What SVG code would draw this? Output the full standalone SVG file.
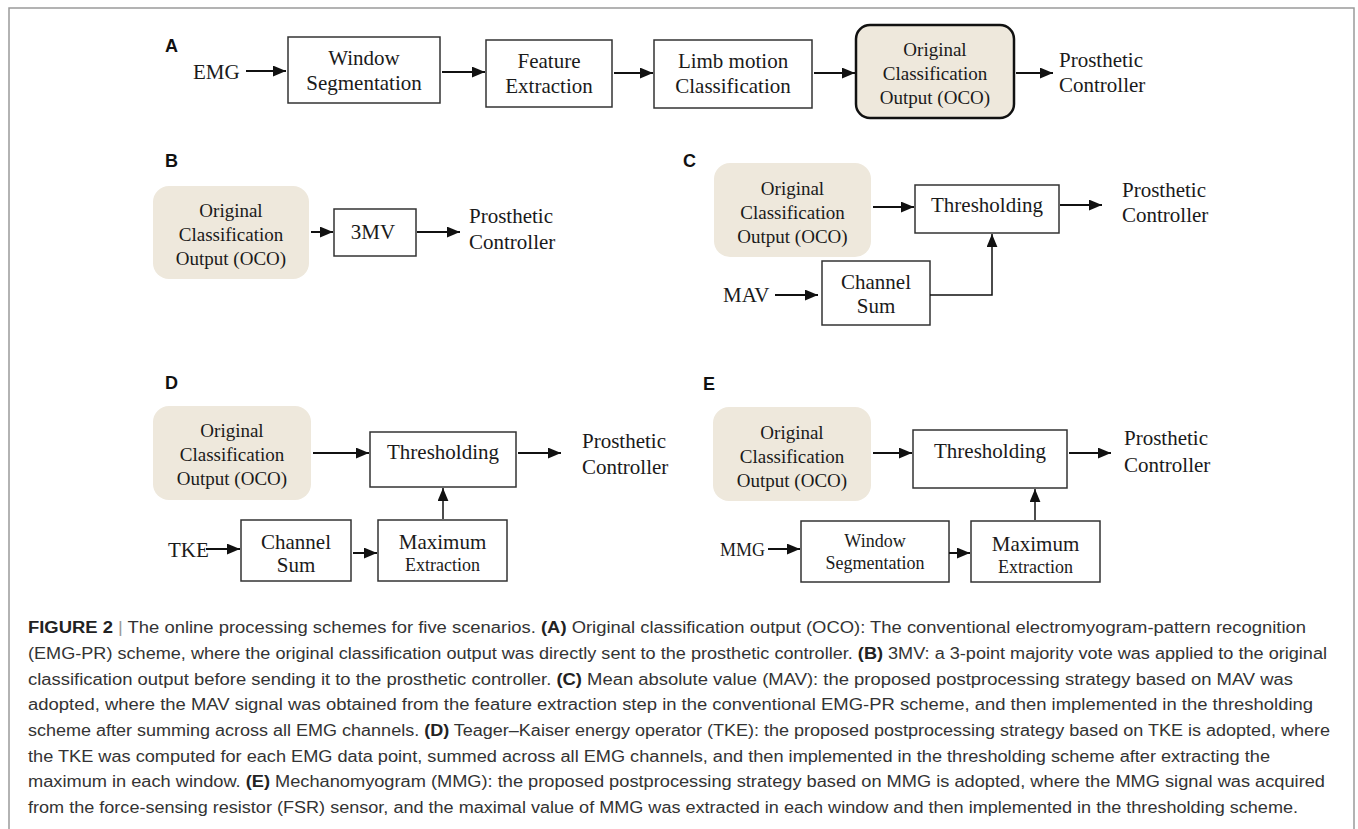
<svg xmlns="http://www.w3.org/2000/svg" width="1358" height="829" viewBox="0 0 1358 829">
<defs>
<marker id="ah" viewBox="0 0 12 10" refX="12" refY="5" markerWidth="13" markerHeight="11" markerUnits="userSpaceOnUse" orient="auto"><path d="M0,0 L12,5 L0,10 z" fill="#111"/></marker>
<style>
.box{fill:#fff;stroke:#333;stroke-width:1.5}
.oco{fill:#eee8dc;stroke:none}
.ocoA{fill:#eee8dc;stroke:#111;stroke-width:2.5}
.t{font-family:"Liberation Serif","Times New Roman",serif;font-size:21px;fill:#1a1a1a}
.m{text-anchor:middle}
.s{font-size:18px}
.o{font-size:19px}
.lbl{font-family:"Liberation Sans",Arial,sans-serif;font-size:18px;font-weight:bold;fill:#111}
.c{stroke:#111;stroke-width:2;fill:none;marker-end:url(#ah)}
.c2{stroke:#111;stroke-width:1.5;fill:none;marker-end:url(#ah)}
.cap{font-family:"Liberation Sans",Arial,sans-serif;font-size:16px;fill:#333}
.b{font-weight:bold;fill:#222}
</style>
</defs>
<rect x="9" y="8" width="1345" height="840" fill="none" stroke="#9a9a9a" stroke-width="1.5"/>

<!-- Panel A -->
<text class="lbl" x="165" y="52">A</text>
<g id="a-emg"><text class="t" x="193" y="79">EMG</text></g>
<g id="a-win"><rect class="box" x="288" y="37" width="152" height="66"/><text class="t m" x="364" y="65">Window</text><text class="t m" x="364" y="90">Segmentation</text></g>
<g id="a-feat"><rect class="box" x="486" y="40" width="126" height="67"/><text class="t m" x="549" y="68">Feature</text><text class="t m" x="549" y="93">Extraction</text></g>
<g id="a-limb"><rect class="box" x="654" y="40" width="158" height="68"/><text class="t m" x="733" y="68">Limb motion</text><text class="t m" x="733" y="93">Classification</text></g>
<g id="a-oco"><rect class="ocoA" x="856" y="25" width="158" height="93" rx="14"/><text class="t m o" x="935" y="56">Original</text><text class="t m o" x="935" y="80">Classification</text><text class="t m o" x="935" y="104">Output (OCO)</text></g>
<g id="a-pc"><text class="t" x="1059" y="67">Prosthetic</text><text class="t" x="1059" y="92">Controller</text></g>

<!-- Panel B -->
<text class="lbl" x="165" y="167">B</text>
<g id="b-oco"><rect class="oco" x="153" y="186" width="156" height="93" rx="16"/><text class="t m o" x="231" y="217">Original</text><text class="t m o" x="231" y="241">Classification</text><text class="t m o" x="231" y="265">Output (OCO)</text></g>
<g id="b-3mv"><rect class="box" x="334" y="209" width="82" height="47"/><text class="t m" x="373" y="239">3MV</text></g>
<g id="b-pc"><text class="t" x="469" y="223">Prosthetic</text><text class="t" x="469" y="249">Controller</text></g>

<!-- Panel C -->
<text class="lbl" x="683" y="167">C</text>
<g id="c-oco"><rect class="oco" x="714" y="163" width="157" height="94" rx="16"/><text class="t m o" x="792.5" y="195">Original</text><text class="t m o" x="792.5" y="219">Classification</text><text class="t m o" x="792.5" y="243">Output (OCO)</text></g>
<g id="c-thr"><rect class="box" x="915" y="185" width="144" height="48"/><text class="t m" x="987" y="212">Thresholding</text></g>
<g id="c-pc"><text class="t" x="1122" y="197">Prosthetic</text><text class="t" x="1122" y="222">Controller</text></g>
<g id="c-mav"><text class="t" x="723" y="302">MAV</text></g>
<g id="c-sum"><rect class="box" x="822" y="261" width="108" height="64"/><text class="t m" x="876" y="289">Channel</text><text class="t m" x="876" y="313">Sum</text></g>

<!-- Panel D -->
<text class="lbl" x="165" y="389">D</text>
<g id="d-oco"><rect class="oco" x="153" y="406" width="158" height="94" rx="16"/><text class="t m o" x="232" y="437">Original</text><text class="t m o" x="232" y="461">Classification</text><text class="t m o" x="232" y="485">Output (OCO)</text></g>
<g id="d-thr"><rect class="box" x="370" y="432" width="146" height="55"/><text class="t m" x="443" y="459">Thresholding</text></g>
<g id="d-pc"><text class="t" x="582" y="448">Prosthetic</text><text class="t" x="582" y="474">Controller</text></g>
<g id="d-tke"><text class="t" x="168" y="557">TKE</text></g>
<g id="d-sum"><rect class="box" x="241" y="520" width="110" height="61"/><text class="t m" x="296" y="549">Channel</text><text class="t m" x="296" y="572">Sum</text></g>
<g id="d-max"><rect class="box" x="378" y="520" width="129" height="61"/><text class="t m" x="442.5" y="549">Maximum</text><text class="t m s" x="442.5" y="571">Extraction</text></g>

<!-- Panel E -->
<text class="lbl" x="703" y="390">E</text>
<g id="e-oco"><rect class="oco" x="713" y="407" width="158" height="94" rx="16"/><text class="t m o" x="792" y="439">Original</text><text class="t m o" x="792" y="463">Classification</text><text class="t m o" x="792" y="487">Output (OCO)</text></g>
<g id="e-thr"><rect class="box" x="913" y="430" width="154" height="58"/><text class="t m" x="990" y="458">Thresholding</text></g>
<g id="e-pc"><text class="t" x="1124" y="445">Prosthetic</text><text class="t" x="1124" y="472">Controller</text></g>
<g id="e-mmg"><text class="t s" x="720" y="556">MMG</text></g>
<g id="e-win"><rect class="box" x="801" y="521" width="148" height="61"/><text class="t m s" x="875" y="547">Window</text><text class="t m s" x="875" y="569">Segmentation</text></g>
<g id="e-max"><rect class="box" x="971" y="521" width="129" height="61"/><text class="t m" x="1035.5" y="551">Maximum</text><text class="t m s" x="1035.5" y="573">Extraction</text></g>

<!-- Connectors -->
<g id="connectors">
<line class="c" x1="246" y1="71" x2="286" y2="71"/>
<line class="c" x1="442" y1="72" x2="485" y2="72"/>
<line class="c" x1="614" y1="73" x2="653" y2="73"/>
<line class="c" x1="814" y1="73" x2="855" y2="73"/>
<line class="c" x1="1016" y1="73" x2="1053" y2="73"/>
<line class="c" x1="311" y1="232" x2="333" y2="232"/>
<line class="c" x1="417" y1="232" x2="460" y2="232"/>
<line class="c" x1="873" y1="207" x2="914" y2="207"/>
<line class="c" x1="1060" y1="205" x2="1102" y2="205"/>
<line class="c" x1="775" y1="295" x2="818" y2="295"/>
<polyline class="c2" points="930,295 992,295 992,234"/>
<line class="c" x1="313" y1="453" x2="369" y2="453"/>
<line class="c" x1="518" y1="453" x2="561" y2="453"/>
<line class="c" x1="206" y1="549" x2="240" y2="549"/>
<line class="c" x1="353" y1="553" x2="377" y2="553"/>
<line class="c2" x1="443" y1="519" x2="443" y2="488"/>
<line class="c" x1="873" y1="453" x2="912" y2="453"/>
<line class="c" x1="1069" y1="453" x2="1111" y2="453"/>
<line class="c" x1="768" y1="549" x2="800" y2="549"/>
<line class="c" x1="949" y1="553" x2="970" y2="553"/>
<line class="c2" x1="1035" y1="520" x2="1035" y2="489"/>
</g>

<!-- Caption -->
<g id="caption" class="cap">
<text x="28" y="633" textLength="1278" lengthAdjust="spacingAndGlyphs"><tspan class="b">FIGURE 2</tspan> <tspan fill="#999">|</tspan> The online processing schemes for five scenarios. <tspan class="b">(A)</tspan> Original classification output (OCO): The conventional electromyogram-pattern recognition</text>
<text x="28" y="659" textLength="1299" lengthAdjust="spacingAndGlyphs">(EMG-PR) scheme, where the original classification output was directly sent to the prosthetic controller. <tspan class="b">(B)</tspan> 3MV: a 3-point majority vote was applied to the original</text>
<text x="28" y="685" textLength="1265" lengthAdjust="spacingAndGlyphs">classification output before sending it to the prosthetic controller. <tspan class="b">(C)</tspan> Mean absolute value (MAV): the proposed postprocessing strategy based on MAV was</text>
<text x="28" y="710" textLength="1285" lengthAdjust="spacingAndGlyphs">adopted, where the MAV signal was obtained from the feature extraction step in the conventional EMG-PR scheme, and then implemented in the thresholding</text>
<text x="28" y="736" textLength="1302" lengthAdjust="spacingAndGlyphs">scheme after summing across all EMG channels. <tspan class="b">(D)</tspan> Teager–Kaiser energy operator (TKE): the proposed postprocessing strategy based on TKE is adopted, where</text>
<text x="28" y="762" textLength="1242" lengthAdjust="spacingAndGlyphs">the TKE was computed for each EMG data point, summed across all EMG channels, and then implemented in the thresholding scheme after extracting the</text>
<text x="28" y="787" textLength="1297" lengthAdjust="spacingAndGlyphs">maximum in each window. <tspan class="b">(E)</tspan> Mechanomyogram (MMG): the proposed postprocessing strategy based on MMG is adopted, where the MMG signal was acquired</text>
<text x="28" y="813" textLength="1270" lengthAdjust="spacingAndGlyphs">from the force-sensing resistor (FSR) sensor, and the maximal value of MMG was extracted in each window and then implemented in the thresholding scheme.</text>
</g>
</svg>
